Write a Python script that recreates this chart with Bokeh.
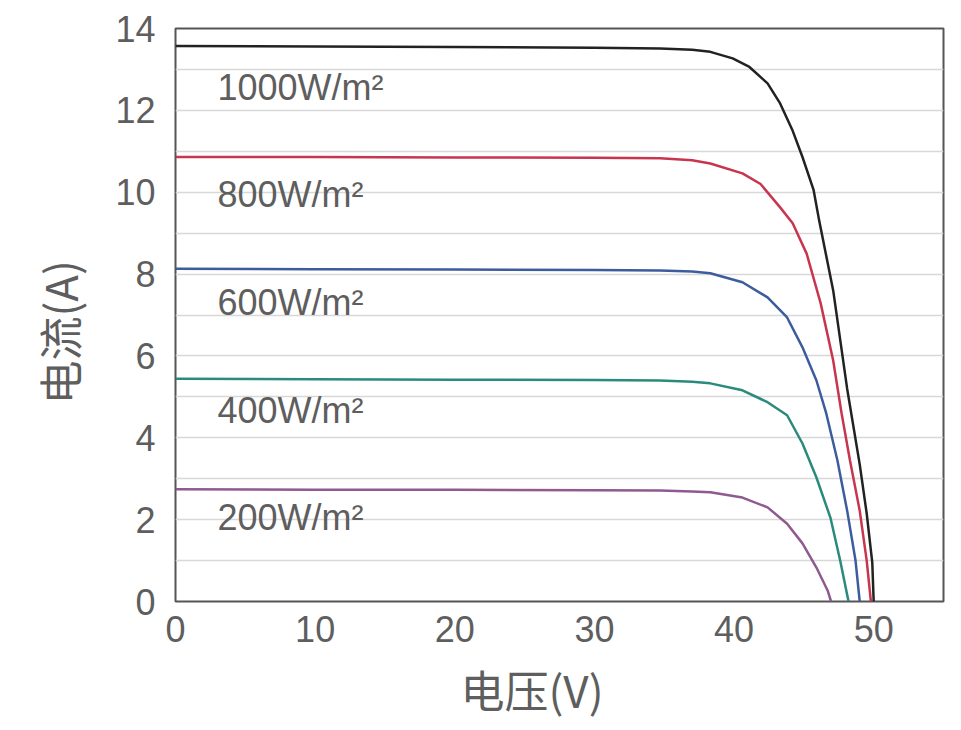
from bokeh.plotting import figure
from bokeh.models import Range1d, SingleIntervalTicker, FixedTicker, Label, Title
from bokeh.embed import file_html
from bokeh.resources import INLINE

# ---- data ----
labels = ["1000W/m²", "800W/m²", "600W/m²", "400W/m²", "200W/m²"]
colors = ["#222222", "#c8354f", "#3d5c9e", "#2a8a7c", "#8e5a90"]

v_1000 = [0, 10, 20, 30, 34.7, 37.0, 38.3, 39.9, 41.1, 42.4, 43.3, 44.2, 44.9, 45.7, 46.1, 47.1, 48.1, 49.0, 49.5, 49.9, 50.0]
i_1000 = [13.57, 13.56, 13.55, 13.53, 13.51, 13.48, 13.43, 13.27, 13.06, 12.66, 12.17, 11.5, 10.86, 10.05, 9.3, 7.6, 5.2, 3.35, 2.15, 0.95, 0]

v_800 = [0, 10, 20, 30, 34.7, 37.0, 38.3, 40.6, 41.9, 43.3, 44.2, 45.2, 46.2, 47.1, 47.7, 48.3, 49.0, 49.5, 49.8]
i_800 = [10.86, 10.86, 10.85, 10.84, 10.83, 10.78, 10.7, 10.46, 10.2, 9.63, 9.24, 8.5, 7.29, 5.89, 4.6, 3.45, 2.22, 1.0, 0]

v_600 = [0, 10, 20, 30, 34.7, 37.0, 38.3, 40.6, 42.4, 43.8, 44.9, 45.9, 46.6, 47.4, 48.1, 48.7, 49.0]
i_600 = [8.13, 8.12, 8.11, 8.10, 8.09, 8.06, 8.02, 7.8, 7.43, 6.94, 6.21, 5.4, 4.6, 3.45, 2.22, 1.0, 0]

v_400 = [0, 10, 20, 30, 34.7, 37.0, 38.3, 40.6, 42.4, 43.8, 44.9, 45.9, 46.9, 47.6, 48.2]
i_400 = [5.44, 5.43, 5.42, 5.41, 5.40, 5.37, 5.33, 5.16, 4.87, 4.55, 3.86, 3.03, 2.05, 1.0, 0]

v_200 = [0, 10, 20, 30, 34.7, 37.0, 38.3, 40.6, 42.4, 43.8, 44.9, 45.9, 46.7, 46.95]
i_200 = [2.74, 2.73, 2.73, 2.72, 2.71, 2.69, 2.67, 2.54, 2.3, 1.9, 1.42, 0.83, 0.27, 0]

label_v = [3.0, 3.0, 3.0, 3.0, 3.0]
label_i = [12.55, 9.95, 7.3, 4.67, 2.05]

x_ticks = [0, 10, 20, 30, 40, 50]
y_ticks = [0, 2, 4, 6, 8, 10, 12, 14]

x_title = "电压(V)"
y_title = "电流(A)"

series_v = [v_1000, v_800, v_600, v_400, v_200]
series_i = [i_1000, i_800, i_600, i_400, i_200]

TEXT = "#5e5e5e"
FONT = "Liberation Sans"
CJK = "Noto Sans CJK SC"

p = figure(width=961, height=730, output_backend="svg", toolbar_location=None,
           x_range=Range1d(0, 55), y_range=Range1d(0, 14),
           min_border_left=175, min_border_right=18, min_border_top=28, min_border_bottom=129)

p.background_fill_color = "white"
p.border_fill_color = "white"
p.outline_line_color = "#555555"
p.outline_line_width = 2

p.xgrid.visible = False
p.ygrid.ticker = SingleIntervalTicker(interval=1)
p.ygrid.grid_line_color = "#d8d8d8"
p.ygrid.grid_line_width = 1.5

p.xaxis.ticker = FixedTicker(ticks=x_ticks)
p.yaxis.ticker = FixedTicker(ticks=y_ticks)
for ax in (p.xaxis, p.yaxis):
    ax.axis_line_color = None
    ax.major_tick_line_color = None
    ax.minor_tick_line_color = None
    ax.major_label_text_font = FONT
    ax.major_label_text_font_size = "36px"
    ax.major_label_text_color = TEXT
p.xaxis.major_label_standoff = 8
p.yaxis.major_label_standoff = 14

for v, i, c in zip(series_v, series_i, colors):
    p.line(v, i, line_color=c, line_width=2.5)

for t, lv, li in zip(labels, label_v, label_i):
    p.add_layout(Label(x=lv, y=li, text=t, text_font=FONT, text_font_size="36px",
                       text_color=TEXT, text_baseline="middle", text_align="left"))

# axis titles
p.add_layout(Title(text=x_title, align="left", offset=285, standoff=20,
                   text_font=CJK, text_font_size="44px", text_color=TEXT,
                   text_font_style="normal"), "below")
p.add_layout(Title(text=y_title, align="left", offset=197, standoff=44,
                   text_font=CJK, text_font_size="44px", text_color=TEXT,
                   text_font_style="normal"), "left")

open("out.html", "w").write(file_html(p, INLINE))
